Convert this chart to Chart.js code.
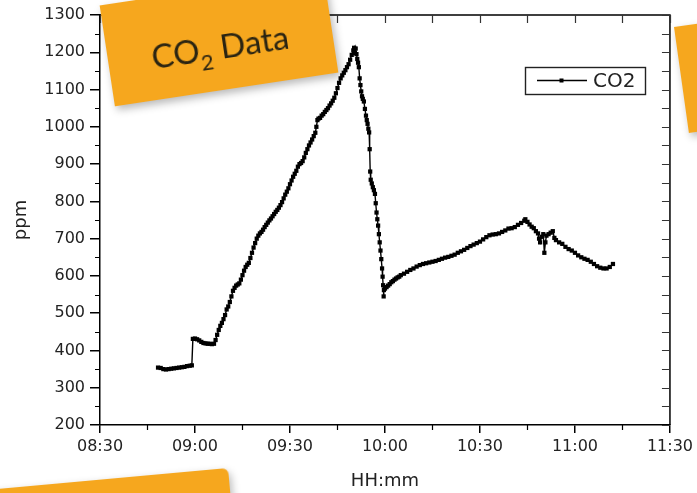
<!DOCTYPE html>
<html>
<head>
<meta charset="utf-8">
<script src="https://cdn.jsdelivr.net/npm/chart.js@4/dist/chart.umd.min.js"></script>
<style>
html,body{margin:0;padding:0;background:#fff;overflow:hidden;}
#wrap{position:relative;width:697px;height:493px;overflow:hidden;background:#fff;}
#c{position:absolute;left:0;top:0;}
.note{position:absolute;background:#F6A71E;box-shadow:2px 4px 8px rgba(0,0,0,0.28);}
.n1{left:106px;top:-12.5px;width:226px;height:102px;transform:rotate(-8.6deg);display:flex;align-items:center;justify-content:center;box-sizing:border-box;padding-top:14px;
  font-family:Lato,"Open Sans",sans-serif;font-size:33px;color:#2a2412;}
.n1 sub{font-size:22px;vertical-align:-9px;line-height:0;}
.n2{left:674px;top:27px;width:200px;height:107px;transform-origin:0 0;transform:rotate(-8deg);}
.n3{left:-32px;top:468px;width:260px;height:100px;transform-origin:100% 0;transform:rotate(-5.2deg);border-radius:0 6px 0 0;}
</style>
</head>
<body>
<div id="wrap">
  <canvas id="c" width="697" height="493"></canvas>
  <div class="note n1"><span>CO<sub>2</sub> Data</span></div>
  <div class="note n2"></div>
  <div class="note n3"></div>
</div>
<script>
// ---- data (time of day, CO2 in ppm) ----
const seriesLabel = "CO2";
const times = [
"08:48:20","08:49:10","08:50:00","08:50:50","08:51:40","08:52:30","08:53:20","08:54:10","08:55:00","08:55:50",
"08:56:40","08:57:30","08:58:20","08:59:00","08:59:20","09:00:00","09:00:40","09:01:20","09:02:00","09:02:40",
"09:03:20","09:04:00","09:04:40","09:05:20","09:06:00","09:06:30","09:07:00","09:07:30","09:08:00","09:08:30",
"09:09:00","09:09:30","09:10:00","09:10:30","09:11:00","09:11:30","09:12:00","09:12:30","09:13:00","09:13:30",
"09:14:00","09:14:30","09:15:00","09:15:30","09:16:00","09:16:30","09:17:00","09:17:30","09:18:00","09:18:30",
"09:19:00","09:19:30","09:20:00","09:20:30","09:21:00","09:21:30","09:22:00","09:22:30","09:23:00","09:23:30",
"09:24:00","09:24:30","09:25:00","09:25:30","09:26:00","09:26:30","09:27:00","09:27:30","09:28:00","09:28:30",
"09:29:00","09:29:30","09:30:00","09:30:30","09:31:00","09:31:30","09:32:00","09:32:30","09:33:00","09:33:30",
"09:34:00","09:34:30","09:35:00","09:35:30","09:36:00","09:36:30","09:37:00","09:37:30","09:38:00","09:38:20",
"09:38:40","09:39:00","09:39:30","09:40:00","09:40:30","09:41:00","09:41:30","09:42:00","09:42:30","09:43:00",
"09:43:30","09:44:00","09:44:30","09:45:00","09:45:30","09:46:00","09:46:30","09:47:00","09:47:30","09:48:00",
"09:48:30","09:49:00","09:49:30","09:50:00","09:50:15","09:50:30","09:50:45","09:51:00","09:51:15","09:51:30",
"09:51:45","09:52:00","09:52:15","09:52:30","09:52:45","09:53:00","09:53:20","09:53:40","09:54:00","09:54:15",
"09:54:30","09:54:45","09:55:00","09:55:10","09:55:20","09:55:30","09:55:50","09:56:10","09:56:30","09:56:50",
"09:57:05","09:57:20","09:57:35","09:57:50","09:58:05","09:58:20","09:58:35","09:58:50","09:59:05","09:59:15",
"09:59:25","09:59:35","09:59:40","10:00:00","10:00:30","10:01:00","10:01:30","10:02:00","10:02:30","10:03:00",
"10:03:30","10:04:00","10:04:30","10:05:00","10:06:00","10:07:00","10:08:00","10:09:00","10:10:00","10:11:00",
"10:12:00","10:13:00","10:14:00","10:15:00","10:16:00","10:17:00","10:18:00","10:19:00","10:20:00","10:21:00",
"10:22:00","10:23:00","10:24:00","10:25:00","10:26:00","10:27:00","10:28:00","10:29:00","10:30:00","10:31:00",
"10:32:00","10:33:00","10:34:00","10:35:00","10:36:00","10:37:00","10:38:00","10:39:00","10:40:00","10:41:00",
"10:42:00","10:43:00","10:44:00","10:44:20","10:45:00","10:45:40","10:46:20","10:47:00","10:47:40","10:48:20",
"10:48:40","10:49:00","10:49:30","10:50:00","10:50:20","10:50:40","10:51:00","10:51:40","10:52:20","10:53:00",
"10:53:30","10:54:00","10:55:00","10:56:00","10:57:00","10:58:00","10:59:00","11:00:00","11:01:00","11:02:00",
"11:03:00","11:04:00","11:05:00","11:06:00","11:07:00","11:08:00","11:09:00","11:10:00","11:11:00","11:12:00"
];
const co2 = [
354,353,350,349,350,351,352,353,354,355,
356,358,359,360,431,432,430,427,423,420,
419,418,418,417,418,428,442,455,466,474,
484,495,510,518,530,545,560,568,574,577,
580,590,602,614,624,630,635,648,662,676,
688,700,708,714,718,724,731,737,743,749,
754,760,766,772,777,783,790,798,808,818,
826,835,846,856,866,874,882,893,900,903,
908,918,930,940,950,958,966,975,984,1000,
1018,1022,1024,1030,1034,1040,1045,1050,1057,1063,
1070,1078,1090,1104,1118,1130,1138,1145,1152,1160,
1168,1180,1193,1205,1212,1198,1210,1195,1182,1172,
1160,1130,1112,1095,1082,1075,1068,1048,1030,1018,
1008,995,985,940,880,858,848,838,830,820,
795,770,752,735,712,690,668,645,620,598,
575,545,562,566,570,574,578,583,586,590,
593,596,598,602,606,611,616,620,625,629,
632,634,636,638,640,643,646,649,651,654,
657,662,666,670,675,680,684,688,692,698,
704,709,711,712,714,718,722,727,728,731,
737,742,748,752,745,738,732,728,720,714,
700,690,705,712,662,690,708,712,716,720,
702,696,690,686,678,672,668,662,655,650,
646,643,638,632,626,622,620,620,624,632
];
const xTickValues = ["08:30","09:00","09:30","10:00","10:30","11:00","11:30"];
const xMinorValues = ["08:45","09:15","09:45","10:15","10:45","11:15"];
const yMin = 200, yMax = 1300, yStep = 100;
const yMinorValues = [250,350,450,550,650,750,850,950,1050,1150,1250];

// ---- helpers ----
const toMin = s => { const p = s.split(':').map(Number); return p[0]*60 + p[1] + (p[2]||0)/60; };
const fmt = v => { const h = Math.floor(v/60), m = Math.round(v%60); return String(h).padStart(2,'0')+':'+String(m).padStart(2,'0'); };
const FONT = '"DejaVu Sans", sans-serif';

const framePlugin = {
  id: 'frame',
  afterDraw(chart) {
    const {ctx, chartArea: {left, right, top, bottom}, scales: {x, y}} = chart;
    ctx.save();
    ctx.strokeStyle = '#000';
    ctx.lineWidth = 1.5;
    ctx.beginPath();
    ctx.moveTo(left, top); ctx.lineTo(right, top); ctx.lineTo(right, bottom);
    ctx.stroke();
    ctx.lineWidth = 1.2;
    ctx.beginPath();
    yMinorValues.forEach(v => { const py = Math.round(y.getPixelForValue(v)) + 0.5; ctx.moveTo(left - 5, py); ctx.lineTo(left, py); });
    xMinorValues.map(toMin).forEach(v => { if (v > x.max) return; const px = Math.round(x.getPixelForValue(v)) + 0.5; ctx.moveTo(px, bottom); ctx.lineTo(px, bottom + 5); });
    ctx.stroke();
    ctx.strokeStyle = '#333';
    ctx.beginPath();
    xTickValues.concat(xMinorValues).map(toMin).forEach(v => { if (v > x.max) return; const px = Math.round(x.getPixelForValue(v)) + 0.5; ctx.moveTo(px, top); ctx.lineTo(px, top + 8); });
    for (let v = yMin; v <= yMax; v += yStep/2) { const py = Math.round(y.getPixelForValue(v)) + 0.5; ctx.moveTo(right, py); ctx.lineTo(right - 8, py); }
    ctx.stroke();
    ctx.restore();
  }
};

const legendPlugin = {
  id: 'boxLegend',
  afterDraw(chart) {
    const ds = chart.data.datasets[0];
    const ctx = chart.ctx;
    const bx = 525, by = 67, bw = 120, bh = 27, cy = by + bh/2;
    ctx.save();
    ctx.fillStyle = '#fff';
    ctx.fillRect(bx, by, bw, bh);
    ctx.strokeStyle = '#222';
    ctx.lineWidth = 1.4;
    ctx.strokeRect(bx + 0.5, by + 0.5, bw, bh);
    ctx.strokeStyle = ds.borderColor;
    ctx.lineWidth = 1.3;
    ctx.beginPath(); ctx.moveTo(537, cy); ctx.lineTo(587, cy); ctx.stroke();
    ctx.fillStyle = ds.backgroundColor;
    ctx.fillRect(559.5, cy - 2, 4, 4);
    ctx.fillStyle = '#222';
    ctx.font = '20px ' + FONT;
    ctx.textBaseline = 'middle';
    ctx.fillText(ds.label, 593, cy + 1);
    ctx.restore();
  }
};

new Chart(document.getElementById('c'), {
  type: 'line',
  data: {
    datasets: [{
      label: seriesLabel,
      data: times.map((t, i) => ({x: toMin(t), y: co2[i]})),
      borderColor: '#000',
      backgroundColor: '#000',
      borderWidth: 1.4,
      pointStyle: 'rect',
      pointRadius: 3,
      pointBorderWidth: 0,
      tension: 0
    }]
  },
  options: {
    responsive: false,
    animation: false,
    layout: {padding: {left: 0, right: 27, top: 15, bottom: 0}},
    plugins: {legend: {display: false}, tooltip: {enabled: false}},
    scales: {
      x: {
        type: 'linear',
        min: toMin(xTickValues[0]),
        max: toMin(xTickValues[xTickValues.length - 1]),
        afterBuildTicks: s => { s.ticks = xTickValues.map(t => ({value: toMin(t)})); },
        afterFit: s => { s.height = 68; },
        ticks: {callback: v => fmt(v), font: {family: FONT, size: 16}, color: '#222', padding: 4, maxRotation: 0, autoSkip: false},
        grid: {drawOnChartArea: false, tickLength: 8, color: '#000', lineWidth: 1.5},
        border: {color: '#000', width: 1.5},
        title: {display: true, text: 'HH:mm', font: {family: FONT, size: 18}, color: '#222', padding: {top: 0, bottom: 1}}
      },
      y: {
        min: yMin, max: yMax,
        afterFit: s => { s.width = 100; },
        ticks: {stepSize: yStep, callback: v => String(v), font: {family: FONT, size: 16}, color: '#222', padding: 5},
        grid: {drawOnChartArea: false, tickLength: 10, color: '#000', lineWidth: 1.5},
        border: {color: '#000', width: 1.5},
        title: {display: true, text: 'ppm', font: {family: FONT, size: 18}, color: '#222', padding: {top: 11, bottom: 0}}
      }
    }
  },
  plugins: [framePlugin, legendPlugin]
});
</script>
</body>
</html>
